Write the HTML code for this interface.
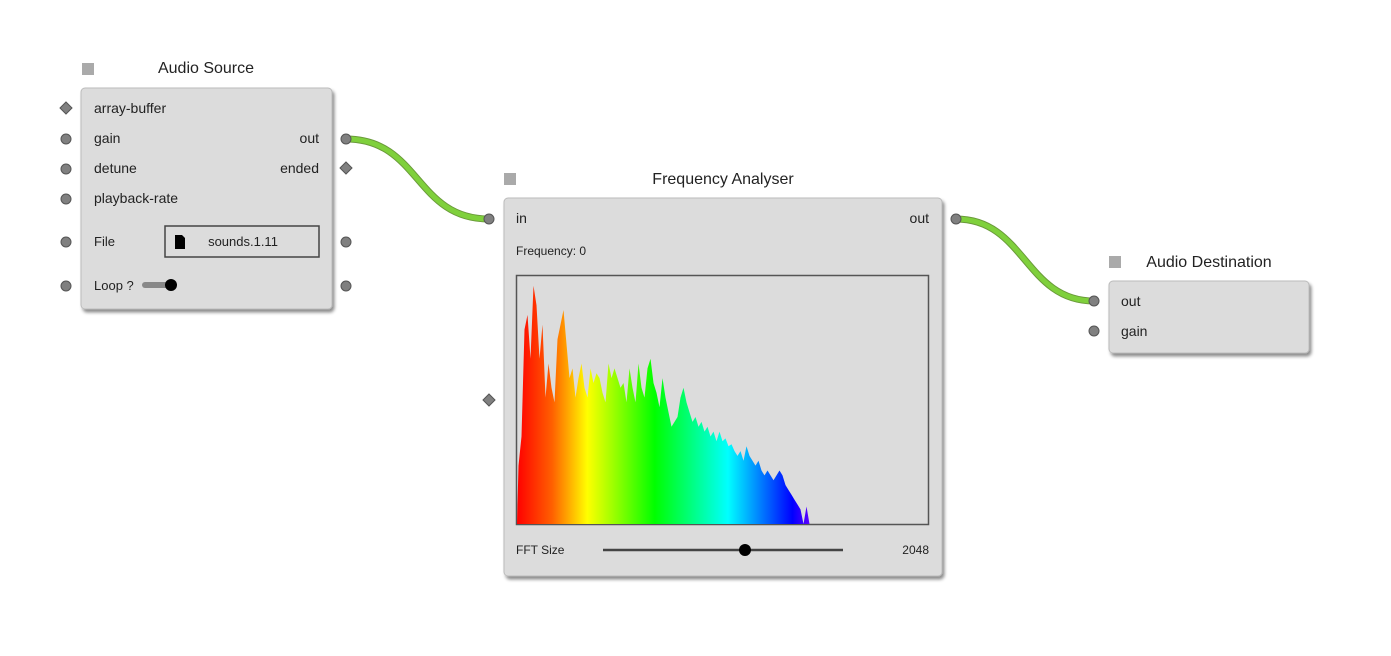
<!DOCTYPE html>
<html><head><meta charset="utf-8"><style>
html,body{margin:0;padding:0;background:#fff;}
svg{display:block;font-family:"Liberation Sans",Arial,sans-serif;}
</style></head><body>
<svg id="root" width="1391" height="656" viewBox="0 0 1391 656">
<defs>
<filter id="sh" x="-10%" y="-10%" width="130%" height="130%"><feDropShadow dx="2" dy="3" stdDeviation="1.5" flood-color="#000" flood-opacity="0.45"/></filter>
<linearGradient id="spec" gradientUnits="userSpaceOnUse" x1="517" y1="0" x2="810" y2="0">
<stop offset="0" stop-color="#ff0000"/><stop offset="0.12" stop-color="#ff6000"/><stop offset="0.24" stop-color="#ffff00"/><stop offset="0.47" stop-color="#00ff00"/><stop offset="0.72" stop-color="#00ffff"/><stop offset="0.94" stop-color="#0000ff"/><stop offset="1" stop-color="#6000ff"/>
</linearGradient>
</defs>

<g>
<path d="M346,139 C420,139 415,219 489,219" fill="none" stroke="#6a9a3a" stroke-width="7"/>
<path d="M346,139 C420,139 415,219 489,219" fill="none" stroke="#7fd03c" stroke-width="5"/>
<path d="M956,219 C1025,219 1025,301 1094,301" fill="none" stroke="#6a9a3a" stroke-width="7"/>
<path d="M956,219 C1025,219 1025,301 1094,301" fill="none" stroke="#7fd03c" stroke-width="5"/>
</g>

<g>
<rect x="82" y="63" width="12" height="12" fill="#aaa"/>
<text x="206" y="73" font-size="16" fill="#222" text-anchor="middle">Audio Source</text>
<rect x="81" y="88" width="251" height="221" rx="4" fill="#dcdcdc" stroke="#bbb" filter="url(#sh)"/>
<g font-size="14" fill="#222">
<text x="94" y="113">array-buffer</text>
<text x="94" y="143">gain</text>
<text x="94" y="173">detune</text>
<text x="94" y="203">playback-rate</text>
<text x="319" y="143" text-anchor="end">out</text>
<text x="319" y="173" text-anchor="end">ended</text>
</g>
<text x="94" y="246" font-size="13" fill="#222">File</text>
<rect x="165" y="226" width="154" height="31" fill="#dcdcdc" stroke="#444" stroke-width="1.5"/>
<path d="M175,235 h7 l3,3 v11 h-10 z" fill="#000"/>
<text x="243" y="246" font-size="13" fill="#222" text-anchor="middle">sounds.1.11</text>
<text x="94" y="290" font-size="13" fill="#222">Loop ?</text>
<line x1="145" y1="285" x2="170" y2="285" stroke="#888" stroke-width="6" stroke-linecap="round"/>
<circle cx="171" cy="285" r="6" fill="#000"/>
<g fill="#808080" stroke="#555" stroke-width="1">
<path d="M66,102 l6,6 l-6,6 l-6,-6 z"/>
<circle cx="66" cy="139" r="5"/>
<circle cx="66" cy="169" r="5"/>
<circle cx="66" cy="199" r="5"/>
<circle cx="66" cy="242" r="5"/>
<circle cx="66" cy="286" r="5"/>
<circle cx="346" cy="139" r="5"/>
<path d="M346,162 l6,6 l-6,6 l-6,-6 z"/>
<circle cx="346" cy="242" r="5"/>
<circle cx="346" cy="286" r="5"/>
</g>
</g>

<g>
<rect x="504" y="173" width="12" height="12" fill="#aaa"/>
<text x="723" y="184" font-size="16" fill="#222" text-anchor="middle">Frequency Analyser</text>
<rect x="504" y="198" width="438" height="378" rx="4" fill="#dcdcdc" stroke="#bbb" filter="url(#sh)"/>
<text x="516" y="223" font-size="14" fill="#222">in</text>
<text x="929" y="223" font-size="14" fill="#222" text-anchor="end">out</text>
<text x="516" y="255" font-size="12" fill="#222">Frequency:  0</text>
<rect x="516.5" y="275.5" width="412" height="249" fill="#dcdcdc" stroke="#555" stroke-width="1.5"/>
<g id="spectrum"></g>
<text x="516" y="554" font-size="12" fill="#222">FFT Size</text>
<line x1="603" y1="550" x2="843" y2="550" stroke="#444" stroke-width="2.5"/>
<circle cx="745" cy="550" r="6" fill="#000"/>
<text x="929" y="554" font-size="12" fill="#222" text-anchor="end">2048</text>
<g fill="#808080" stroke="#555" stroke-width="1">
<circle cx="489" cy="219" r="5"/>
<circle cx="956" cy="219" r="5"/>
<path d="M489,394 l6,6 l-6,6 l-6,-6 z"/>
</g>
</g>

<g>
<rect x="1109" y="256" width="12" height="12" fill="#aaa"/>
<text x="1209" y="267" font-size="16" fill="#222" text-anchor="middle">Audio Destination</text>
<rect x="1109" y="281" width="200" height="72" rx="4" fill="#dcdcdc" stroke="#bbb" filter="url(#sh)"/>
<text x="1121" y="306" font-size="14" fill="#222">out</text>
<text x="1121" y="336" font-size="14" fill="#222">gain</text>
<g fill="#808080" stroke="#555" stroke-width="1">
<circle cx="1094" cy="301" r="5"/>
<circle cx="1094" cy="331" r="5"/>
</g>
</g>
</svg>
<script>
const binValues = [60,90,200,215,170,245,225,170,205,130,165,140,125,190,205,220,185,150,160,130,150,165,140,130,160,145,155,150,135,125,165,150,160,150,140,145,125,160,140,125,165,140,130,160,170,145,135,120,150,130,115,100,105,110,130,140,125,115,105,110,100,105,95,100,90,95,85,95,85,88,80,82,75,70,75,65,80,70,65,60,65,55,50,55,50,45,50,55,50,40,35,30,25,20,15,0,18,0];
const maxValue = 255;
const plotLeft = 517, plotBottom = 524, plotHeight = 248, binWidth = 3;
const xScale = i => plotLeft + i * binWidth;
const yScale = v => plotBottom - (v / maxValue) * plotHeight;
const g = document.getElementById('spectrum');
let d = 'M' + xScale(0) + ',' + plotBottom;
binValues.forEach((v, i) => {
  d += ' L' + (xScale(i) + binWidth / 2) + ',' + yScale(v).toFixed(1);
});
d += ' L' + xScale(binValues.length) + ',' + plotBottom + ' Z';
const p = document.createElementNS('http://www.w3.org/2000/svg', 'path');
p.setAttribute('d', d);
p.setAttribute('fill', 'url(#spec)');


g.appendChild(p);
</script>
</body></html>
